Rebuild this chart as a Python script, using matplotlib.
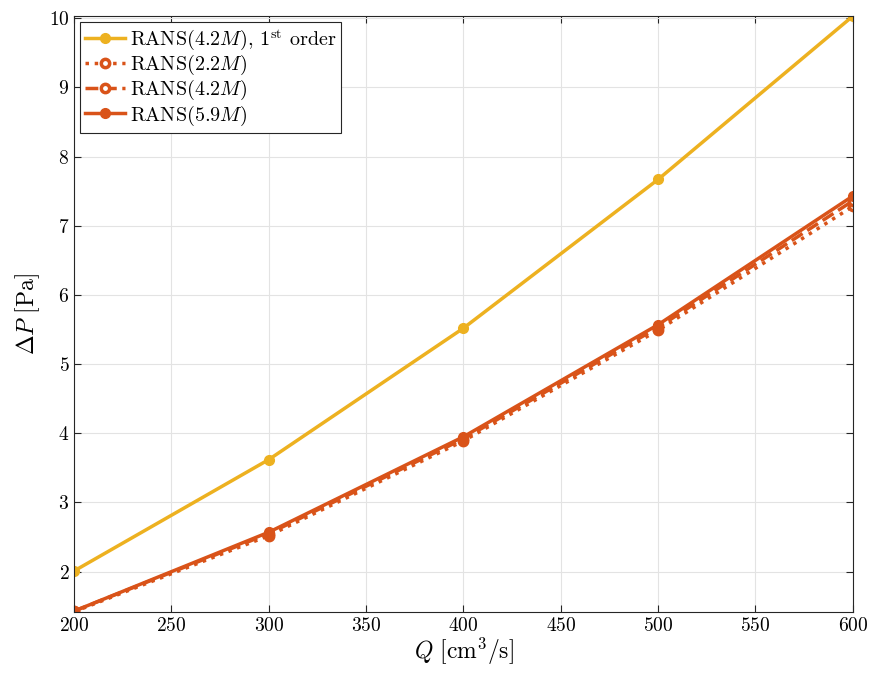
import numpy as np
import matplotlib
matplotlib.use("Agg")
import matplotlib.pyplot as plt

# LaTeX-like look
plt.rcParams['font.family'] = 'serif'
plt.rcParams['font.serif'] = ['cmr10']
plt.rcParams['mathtext.fontset'] = 'cm'
plt.rcParams['axes.formatter.use_mathtext'] = True

# Data
q = [200, 300, 400, 500, 600]
dp_first = [2.01, 3.62, 5.52, 7.67, 10.03]
dp_22 = [1.42, 2.52, 3.89, 5.49, 7.28]
dp_42 = [1.43, 2.55, 3.92, 5.53, 7.36]
dp_59 = [1.43, 2.57, 3.95, 5.57, 7.43]

yellow = '#EDB120'
orange = '#D95319'

fig = plt.figure(figsize=(8.72, 6.73), dpi=100)
ax = fig.add_axes([0.085, 0.091, 0.893, 0.885])

ax.plot(q, dp_first, '-o', color=yellow, lw=2.5, ms=7, label=r'RANS($4.2M$), 1$^{\mathrm{st}}$ order')
ax.plot(q, dp_22, ':o', color=orange, lw=2.5, ms=6, mfc='white', mew=2.5, label=r'RANS($2.2M$)')
ax.plot(q, dp_42, '--o', color=orange, lw=2.5, ms=6, mfc='white', mew=2.5, label=r'RANS($4.2M$)')
ax.plot(q, dp_59, '-o', color=orange, lw=2.5, ms=7, label=r'RANS($5.9M$)')

ax.set_xlim(200, 600)
ax.set_ylim(min(dp_22), max(dp_first))
ax.set_xticks(np.arange(200, 601, 50))
ax.set_yticks(np.arange(2, 11, 1))
ax.grid(True, color='#e3e3e3', lw=0.8)
ax.set_axisbelow(True)
ax.tick_params(direction='in', top=True, right=True, labelsize=14, length=5, color='#262626')
for pos in ['right', 'top', 'bottom', 'left']:
    ax.spines[pos].set_color('#262626')
ax.set_xlabel(r'$Q\ [\mathrm{cm}^3/\mathrm{s}]$', fontsize=17, labelpad=1)
ax.set_ylabel(r'$\Delta P\ [\mathrm{Pa}]$', fontsize=17, labelpad=5)

leg = ax.legend(loc='upper left', fontsize=14.5, fancybox=False, framealpha=1,
                edgecolor='#262626', borderpad=0.25, handlelength=2.0,
                handletextpad=0.2, labelspacing=0.05, borderaxespad=0.3)
leg.get_frame().set_linewidth(0.8)

plt.savefig('out.png', dpi=100)
